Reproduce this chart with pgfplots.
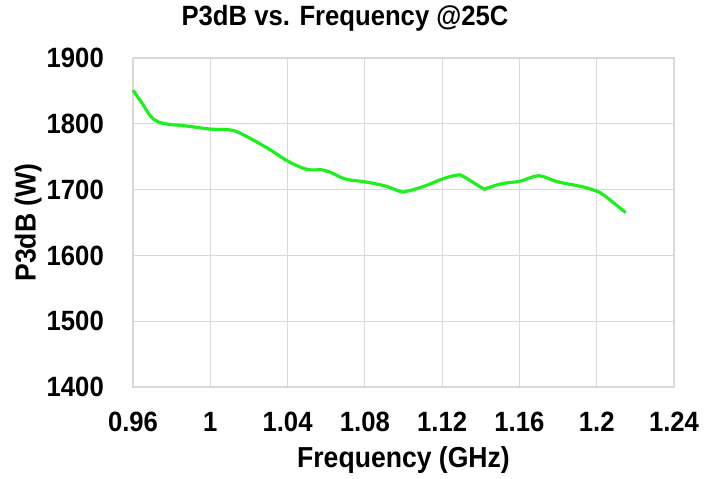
\documentclass[border=0pt]{standalone}
\usepackage{fontspec}
\setmainfont[FakeStretch=0.92]{Liberation Sans}
\usepackage{pgfplots}
\pgfplotsset{compat=1.18}
\definecolor{gridgray}{RGB}{217,217,217}
\definecolor{linegreen}{RGB}{30,240,30}
\begin{document}
\begin{tikzpicture}
\begin{axis}[
  scale only axis,
  width=541bp, height=329bp,
  xmin=0.96, xmax=1.24, ymin=1400, ymax=1900,
  xtick={0.96,1,1.04,1.08,1.12,1.16,1.2,1.24},
  xticklabels={0.96,1,1.04,1.08,1.12,1.16,1.2,1.24},
  ytick={1400,1500,1600,1700,1800,1900},
  /pgf/number format/assume math mode=true,
  /pgf/number format/1000 sep={},
  grid=major,
  major grid style={draw=gridgray, line width=1.2pt},
  axis line style={draw=gridgray, line width=1.2pt},
  major tick length=0pt,
  tick label style={font=\fontsize{28}{32}\selectfont\bfseries},
  xticklabel style={anchor=center, inner sep=0pt, yshift=-35bp},
  yticklabel style={anchor=east, inner sep=0pt, xshift=-29bp},
  xlabel={Frequency (GHz)},
  ylabel={P3dB (W)},
  xlabel style={font=\fontsize{29}{33}\selectfont\bfseries, at={(axis description cs:0.5,-0.222)}, anchor=center},
  ylabel style={font=\fontsize{29}{33}\selectfont\bfseries, at={(axis description cs:-0.194,0.5)}, anchor=center},
  clip=false,
]
\addplot[linegreen, line width=3.2pt, smooth, tension=0.6] coordinates {
(0.9600,1851)
(0.9650,1830)
(0.9690,1812)
(0.9730,1803)
(0.9790,1799)
(0.9867,1797)
(1.0000,1792)
(1.0093,1791)
(1.0153,1786)
(1.0296,1763)
(1.0403,1743)
(1.0498,1731)
(1.0580,1730)
(1.0617,1727)
(1.0700,1716)
(1.0796,1712)
(1.0900,1706)
(1.0975,1698)
(1.1010,1697)
(1.1106,1705)
(1.1200,1716)
(1.1276,1722)
(1.1310,1720)
(1.1410,1702)
(1.1428,1702)
(1.1510,1709)
(1.1606,1713)
(1.1700,1721)
(1.1796,1712)
(1.1915,1705)
(1.1987,1699)
(1.2035,1692)
(1.2150,1665)
};
\node[font=\fontsize{28}{32}\selectfont\bfseries, anchor=center] at (axis description cs:0.392,1.1216) {P3dB vs. Frequency @25C};
\end{axis}
\pgfresetboundingbox
\path (-133bp,-92bp) rectangle (582bp,387bp);
\end{tikzpicture}
\end{document}
